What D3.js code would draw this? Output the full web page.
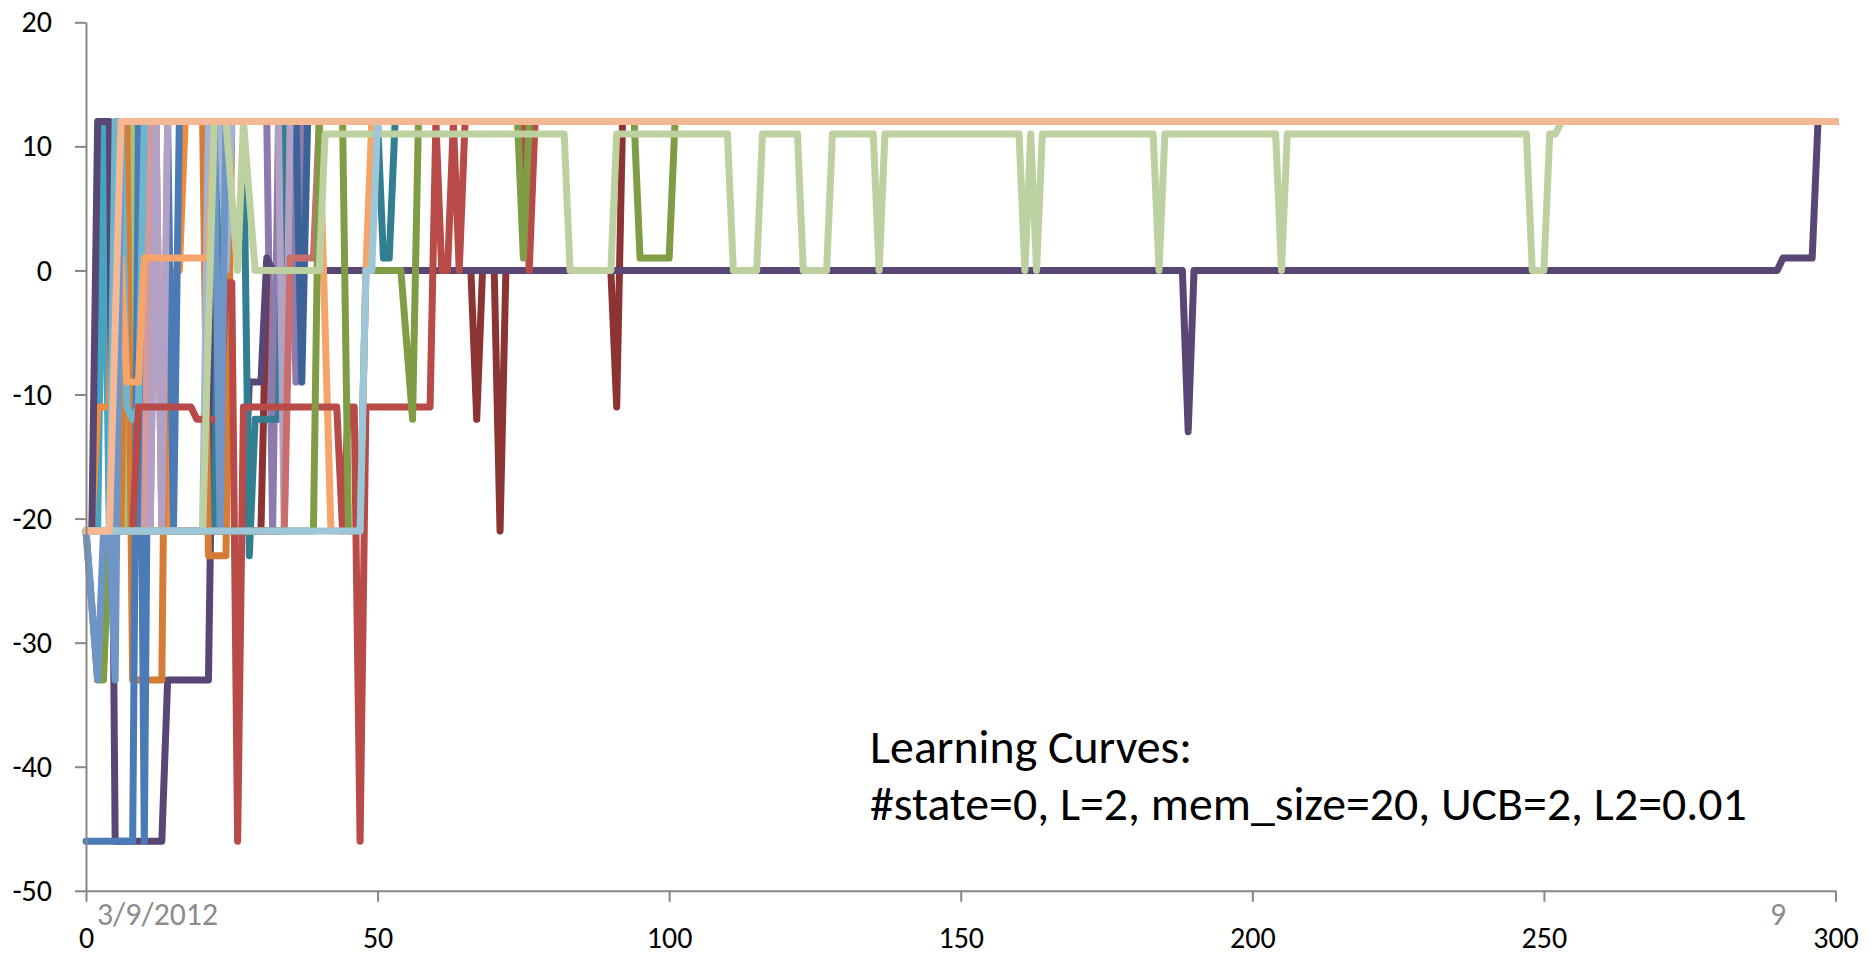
<!DOCTYPE html>
<html>
<head>
<meta charset="utf-8">
<script src="https://cdn.jsdelivr.net/npm/d3@7"></script>
<style>
  html, body { margin: 0; padding: 0; background: #ffffff; }
  svg { display: block; }
</style>
</head>
<body>
<svg id="chart" width="1874" height="959"></svg>
<script>
// ---------------- DATA ----------------
const xTickValues = [0, 50, 100, 150, 200, 250, 300];
const yTickValues = [-50, -40, -30, -20, -10, 0, 10, 20];
const titleLines = ["Learning Curves:", "#state=0, L=2, mem_size=20, UCB=2, L2=0.01"];
const dateLabel = "3/9/2012";
const secondaryLabel = "9";

// Each curve: vertices [episode, score] where the value changes.
const sBlue = [[0,-46],[8,-46],[9,12],[10,-46],[11,12],[14,12],[15,-21],[16,12],[300,12]];
const sGreen = [[0,-21],[7,-21],[8,12],[9,-21],[10,12],[300,12]];
const sPurple = [[0,-21],[11,-21],[12,12],[31,12],[32,-21],[33,12],[35,12],[36,-9],[37,12],[300,12]];
const sAqua = [[0,-21],[2,-21],[3,12],[4,-21],[9,-21],[10,12],[300,12]];
const sOrange = [[0,-21],[1,-21],[2,-11],[4,-11],[5,12],[12,12],[13,-21],[14,-21],[15,0],[16,0],[17,12],[300,12]];
const sDarkBlue = [[0,-21],[21,-21],[22,12],[36,12],[37,-9],[38,12],[300,12]];
const sDarkRed = [[0,-21],[30,-21],[31,0],[66,0],[67,-12],[68,0],[70,0],[71,-21],[72,0],[90,0],[91,-11],[92,12],[300,12]];
const sDarkPurple = [[0,-21],[1,-21],[2,12],[4,12],[5,-46],[13,-46],[14,-33],[21,-33],[22,0],[23,-21],[27,-21],[28,-9],[30,-9],[31,1],[32,0],[188,0],[189,-13],[190,0],[290,0],[291,1],[296,1],[297,12],[300,12]];
const sTeal = [[0,-21],[22,-21],[23,12],[27,12],[28,-23],[29,-12],[33,-12],[34,12],[50,12],[51,1],[52,1],[53,12],[300,12]];
const sDarkOrange = [[0,-21],[6,-21],[7,12],[8,-33],[13,-33],[14,12],[20,12],[21,-23],[24,-23],[25,12],[300,12]];
const sMidBlue = [[0,-21],[2,-33],[3,-21],[4,-21],[5,-33],[6,12],[22,12],[23,-21],[24,12],[300,12]];
const sPaleBlue = [[0,-21],[20,-21],[21,12],[23,12],[24,0],[25,12],[300,12]];
const sPink = [[0,-21],[10,-21],[11,12],[300,12]];
const sLightPurple = [[0,-21],[11,-21],[12,12],[13,-21],[14,12],[33,12],[34,-21],[35,12],[300,12]];
const sLightAqua = [[0,-21],[4,-21],[5,12],[6,12],[7,-11],[8,-12],[9,-11],[10,12],[300,12]];
const sLightOrange = [[0,-21],[5,-21],[6,1],[7,-9],[9,-9],[10,1],[21,1],[22,12],[40,12],[42,-21],[47,-21],[48,0],[49,12],[300,12]];
const sLightRed = [[0,-21],[34,-21],[35,1],[39,1],[40,12],[300,12]];
const sRed = [[0,-21],[8,-21],[9,-11],[18,-11],[19,-12],[23,-12],[24,-1],[25,-1],[26,-46],[27,-11],[43,-11],[44,-21],[45,-11],[46,-11],[47,-46],[48,-11],[59,-11],[60,12],[61,0],[62,0],[63,12],[64,0],[65,12],[75,12],[76,0],[77,12],[300,12]];
const sOlive = [[0,-21],[2,-33],[3,-33],[4,-21],[39,-21],[40,12],[44,12],[45,-21],[47,-21],[48,0],[54,0],[56,-12],[57,12],[74,12],[75,1],[76,12],[94,12],[95,1],[100,1],[101,12],[300,12]];
const sPaleGreen = [[0,-21],[20,-21],[22,12],[24,12],[26,0],[27,12],[29,0],[40,0],[41,11],[82,11],[83,0],[90,0],[91,11],[110,11],[111,0],[115,0],[116,11],[122,11],[123,0],[127,0],[128,11],[135,11],[136,0],[137,11],[160,11],[161,0],[162,11],[163,0],[164,11],[183,11],[184,0],[185,11],[204,11],[205,0],[206,11],[247,11],[248,0],[250,0],[251,11],[252,11],[253,12],[300,12]];
const sPaleCyan = [[0,-21],[47,-21],[48,0],[49,0],[50,12],[300,12]];
const sPeach = [[0,-21],[4,-21],[6,12],[300,12]];

// drawing order (first = bottom)
const seriesData = [sGreen, sPurple, sAqua, sOrange, sDarkBlue, sDarkRed, sDarkPurple,
  sTeal, sDarkOrange, sBlue, sPaleBlue, sPink, sLightPurple, sLightAqua, sLightOrange,
  sLightRed, sRed, sOlive, sMidBlue, sPaleGreen, sPaleCyan, sPeach];
const seriesColors = ["#a6c272", "#8e7bae", "#45a5c0", "#ee8b3c", "#3c6397", "#8b3433", "#5a4675",
  "#327f92", "#d57d36", "#4a7bb7", "#a0b5d8", "#d29a9c", "#b2a1c4", "#6cb5cc", "#f5a46a",
  "#c96e6d", "#b84a48", "#7f9d45", "#6f95c6", "#bdd1a0", "#9dc6d8", "#f5b895"];

// ---------------- LAYOUT ----------------
const FONT = "Carlito, Calibri, Lato, 'Open Sans', sans-serif";
const svg = d3.select("#chart");
const x = d3.scaleLinear().domain([0, 300]).range([86, 1835.5]);
const y = d3.scaleLinear().domain([-50, 20]).range([890.8, 22.3]);
const axisColor = "#878787";
const tickFont = 30;

// lines
const line = d3.line().x(d => x(d[0])).y(d => y(d[1]));
svg.append("g").selectAll("path")
  .data(seriesData)
  .join("path")
  .attr("d", d => line(d))
  .attr("fill", "none")
  .attr("stroke", (d, i) => seriesColors[i])
  .attr("stroke-width", 7)
  .attr("stroke-linejoin", "round")
  .attr("stroke-linecap", "round");

// axes
const plainFormat = d => String(d);
const yAxis = d3.axisLeft(y).tickValues(yTickValues).tickFormat(plainFormat)
  .tickSize(11).tickSizeOuter(0).tickPadding(23);
const xAxis = d3.axisBottom(x).tickValues(xTickValues).tickFormat(plainFormat)
  .tickSize(11).tickSizeOuter(0).tickPadding(25);

const gy = svg.append("g").attr("transform", `translate(${x(0)},0)`).call(yAxis);
const gx = svg.append("g").attr("transform", `translate(0,${y(-50)})`).call(xAxis);

[gx, gy].forEach(g => {
  g.select(".domain").attr("stroke", axisColor).attr("stroke-width", 2);
  g.selectAll(".tick line").attr("stroke", axisColor).attr("stroke-width", 2);
  g.selectAll(".tick text")
    .attr("fill", "#000")
    .style("font-family", FONT)
    .style("font-size", tickFont + "px");
});

// helper to fit a text to a measured width
function fitText(sel, targetWidth) {
  const node = sel.node();
  const base = 40;
  sel.style("font-size", base + "px");
  const w = node.getComputedTextLength();
  const size = base * targetWidth / w;
  sel.style("font-size", size + "px");
  return size;
}

// grey secondary labels
const dl = svg.append("text")
  .attr("x", 97).attr("y", 925)
  .attr("fill", "#8c8c8c")
  .style("font-family", FONT)
  .text(dateLabel);
const dlSize = fitText(dl, 121);

svg.append("text")
  .attr("x", 1778).attr("y", 925)
  .attr("text-anchor", "middle")
  .attr("fill", "#8c8c8c")
  .style("font-family", FONT)
  .style("font-size", dlSize + "px")
  .text(secondaryLabel);

// annotation
const t2 = svg.append("text")
  .attr("x", 870).attr("y", 820)
  .attr("fill", "#000")
  .style("font-family", FONT)
  .text(titleLines[1]);
const t2Size = fitText(t2, 877);

svg.append("text")
  .attr("x", 870).attr("y", 763)
  .attr("fill", "#000")
  .style("font-family", FONT)
  .style("font-size", t2Size + "px")
  .text(titleLines[0]);
</script>
</body>
</html>
